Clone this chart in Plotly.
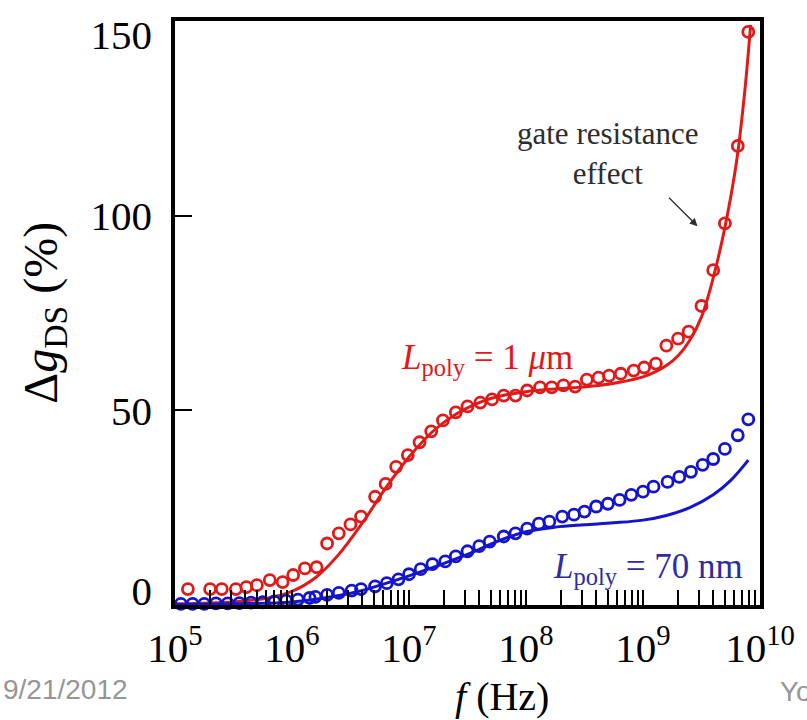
import plotly.graph_objects as go

# ---- data ----
# L_poly = 1 um : measured (circles), log10(f/Hz) and delta g_DS (%)
red_meas_logf = [5.11, 5.30, 5.40, 5.52, 5.61, 5.70, 5.81, 5.92, 6.01, 6.11, 6.21,
                 6.30, 6.40, 6.50, 6.59, 6.71, 6.80, 6.89, 6.99, 7.09, 7.19, 7.29,
                 7.40, 7.50, 7.61, 7.71, 7.81, 7.91, 8.01, 8.12, 8.22, 8.32, 8.42,
                 8.52, 8.62, 8.71, 8.81, 8.92, 9.01, 9.11, 9.20, 9.30, 9.39, 9.50,
                 9.60, 9.70, 9.81, 9.90]
red_meas_val = [4.1, 4.1, 4.1, 4.1, 4.6, 5.1, 6.4, 5.9, 7.7, 9.4, 9.7,
                15.8, 18.4, 20.7, 22.7, 27.8, 31.1, 35.5, 38.5, 41.8, 44.6, 47.4,
                49.5, 51.0, 52.0, 52.8, 53.8, 53.8, 55.1, 55.9, 55.9, 56.4, 56.1,
                57.9, 58.4, 58.9, 59.4, 60.2, 61.0, 62.0, 66.6, 68.4, 70.2, 76.8,
                86.0, 98.0, 117.9, 147.2]
# L_poly = 1 um : model (line)
red_model_logf = [5.0, 5.5, 5.8, 6.0, 6.2, 6.4, 6.6, 6.8, 7.0, 7.2, 7.4, 7.6, 7.8,
                  8.0, 8.2, 8.4, 8.6, 8.8, 9.0, 9.1, 9.2, 9.3, 9.4, 9.5, 9.6, 9.7,
                  9.8, 9.87, 9.92]
red_model_val = [0.3, 0.8, 1.8, 3.5, 7.0, 13.0, 21.0, 30.0, 38.0, 44.5, 49.0, 52.0, 53.8,
                 54.8, 55.4, 55.8, 56.3, 57.2, 58.6, 59.8, 61.5, 64.0, 68.0, 74.0, 84.0, 97.0,
                 114.0, 132.0, 149.0]

# L_poly = 70 nm : measured (circles)
blue_meas_logf = [5.05, 5.15, 5.25, 5.35, 5.45, 5.55, 5.65, 5.75, 5.85, 5.95, 6.05,
                  6.15, 6.20, 6.30, 6.40, 6.51, 6.59, 6.71, 6.81, 6.91, 7.00, 7.10,
                  7.20, 7.31, 7.40, 7.50, 7.60, 7.69, 7.81, 7.91, 8.01, 8.11, 8.20,
                  8.31, 8.41, 8.50, 8.60, 8.70, 8.80, 8.90, 9.00, 9.09, 9.21, 9.31,
                  9.41, 9.51, 9.60, 9.70, 9.81, 9.90]
blue_meas_val = [0.3, 0.3, 0.3, 0.4, 0.4, 0.5, 0.6, 0.7, 0.9, 1.1, 1.4,
                 1.8, 2.1, 2.6, 3.1, 3.7, 4.1, 4.8, 5.6, 6.6, 7.9, 9.2,
                 10.5, 11.2, 12.5, 13.8, 15.1, 16.3, 17.6, 18.4, 19.6, 20.9, 21.4,
                 22.7, 23.2, 24.0, 25.3, 26.0, 27.0, 28.3, 29.1, 30.4, 31.6, 32.9,
                 34.2, 36.0, 37.5, 40.1, 43.6, 47.7]
# L_poly = 70 nm : model (line)
blue_model_logf = [5.0, 5.5, 6.0, 6.5, 7.0, 7.5, 7.75, 8.0, 8.25, 8.5, 8.75, 9.0,
                   9.2, 9.4, 9.6, 9.75, 9.9]
blue_model_val = [0.1, 0.3, 0.8, 3.0, 7.5, 13.0, 16.3, 18.8, 20.0, 20.6, 21.1, 21.8,
                  23.0, 25.0, 28.3, 32.0, 37.2]

x_decades = [5, 6, 7, 8, 9, 10]
y_ticks = [0, 50, 100, 150]
y_tick_text = ["0", "50", "100", "150"]
y_label_pos = [3.6, 50, 100, 146.6]   # where the y labels sit in the picture

RED = "rgb(225,25,25)"
BLUE = "rgb(20,20,205)"
SERIF = "Liberation Serif, Times New Roman, serif"
SANS = "Liberation Sans, Arial, sans-serif"

def hz(logs):
    return [10 ** v for v in logs]

# x ticks: every 1..9 x 10^n, labels only on decades
x_tickvals, x_ticktext = [], []
for d in x_decades:
    for m in range(1, 10):
        if d == x_decades[-1] and m > 1:
            break
        x_tickvals.append(m * 10 ** d)
        x_ticktext.append(f"10<sup>{d}</sup>" if m == 1 else "")

fig = go.Figure()
fig.add_trace(go.Scatter(x=hz(red_model_logf), y=red_model_val, mode="lines",
                         line=dict(color=RED, width=3), line_shape="spline",
                         showlegend=False))
fig.add_trace(go.Scatter(x=hz(blue_model_logf), y=blue_model_val, mode="lines",
                         line=dict(color=BLUE, width=3), line_shape="spline",
                         showlegend=False))
fig.add_trace(go.Scatter(x=hz(red_meas_logf), y=red_meas_val, mode="markers",
                         marker=dict(symbol="circle-open", size=11, color=RED,
                                     line=dict(width=2.8, color=RED)),
                         showlegend=False, cliponaxis=False))
fig.add_trace(go.Scatter(x=hz(blue_meas_logf), y=blue_meas_val, mode="markers",
                         marker=dict(symbol="circle-open", size=11, color=BLUE,
                                     line=dict(width=2.8, color=BLUE)),
                         showlegend=False, cliponaxis=False))
# invisible trace so the label axis (y2) is drawn
fig.add_trace(go.Scatter(x=hz(red_meas_logf), y=red_meas_val, yaxis="y2",
                         mode="markers", marker=dict(opacity=0), hoverinfo="skip",
                         showlegend=False))

fig.update_layout(
    width=807, height=720,
    margin=dict(l=175, r=42, t=16, b=115),
    paper_bgcolor="white", plot_bgcolor="white",
    font=dict(family=SERIF, color="black"),
    xaxis=dict(type="log", range=[5, 10], tickmode="array",
               tickvals=x_tickvals, ticktext=x_ticktext,
               ticks="inside", ticklen=15, tickwidth=1.6, tickcolor="black",
               showgrid=False, zeroline=False,
               showline=True, linewidth=4, linecolor="black", mirror=True,
               tickfont=dict(family=SERIF, size=41, color="black"),
               ticklabelstandoff=4),
    yaxis=dict(range=[0, 150], tickmode="array", tickvals=y_ticks,
               ticks="inside", ticklen=17, tickwidth=1.5, tickcolor="black",
               showticklabels=False,
               showgrid=False, zeroline=False,
               showline=True, linewidth=4, linecolor="black", mirror=True),
    yaxis2=dict(range=[0, 150], overlaying="y", side="left",
                tickmode="array", tickvals=y_label_pos, ticktext=y_tick_text,
                ticks="", showgrid=False, zeroline=False, showline=False,
                tickfont=dict(family=SERIF, size=41, color="black"),
                ticklabelstandoff=22),
)

W0, W1, H0, H1 = 175, 765, 16, 605
def px(x):
    return (x - W0) / (W1 - W0)
def py(y):
    return (H1 - y) / (H1 - H0)

def note(text, x, y, size, color, family=SERIF, **kw):
    d = dict(text=text, x=px(x), y=py(y), xref="paper", yref="paper",
             showarrow=False, xanchor="center", yanchor="middle",
             font=dict(family=family, size=size, color=color))
    d.update(kw)
    return d

ann = [
    note("gate resistance<br>effect", 612, 150, 31, "rgb(45,45,45)", align="center"),
    dict(text="", x=px(702), y=py(223), xref="paper", yref="paper",
         ax=-30, ay=-30, showarrow=True, arrowhead=2, arrowsize=1.2,
         arrowwidth=1.3, arrowcolor="rgb(45,45,45)"),
    note("<i>L</i><sub>poly</sub> = 1 <i>μ</i>m", 490, 357, 35, RED),
    note("<i>L</i><sub>poly</sub> = 70 nm", 652, 568, 35, "rgb(45,45,160)"),
    note("<i>f</i> (Hz)", 505, 697, 40, "black"),
    note("Δ<i>g</i><sub>DS</sub> (%)", 42, 310, 48, "black", textangle=-90),
    note("9/21/2012", 0, 690, 28, "rgb(150,150,150)", family=SANS, xanchor="left"),
    note("Yo", 783, 692, 28, "rgb(150,150,150)", family=SANS, xanchor="left"),
]
fig.update_layout(annotations=ann)

fig.write_html("out.html")
